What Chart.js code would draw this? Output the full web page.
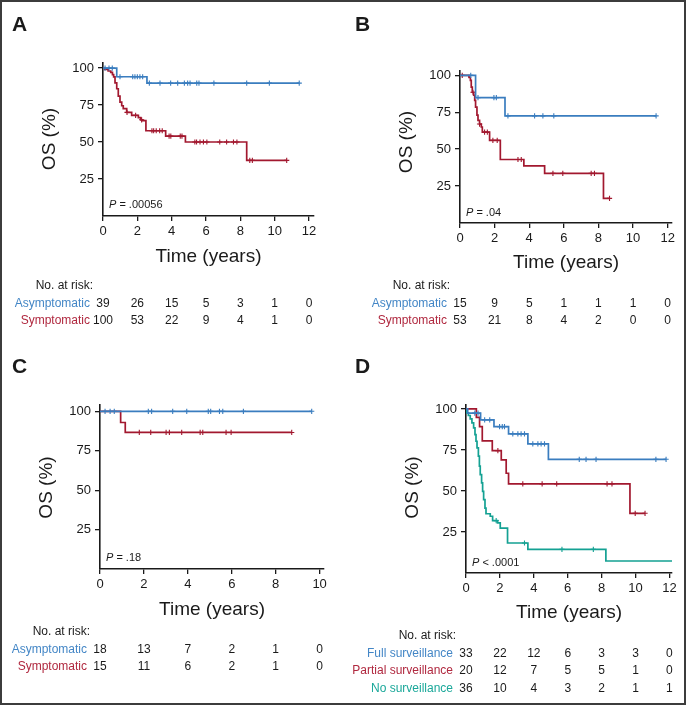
<!DOCTYPE html>
<html lang="en">
<head>
<meta charset="UTF-8">
<title>Overall survival - Kaplan-Meier panels</title>
<script src="https://cdn.jsdelivr.net/npm/chart.js"></script>
<style>
  body { margin: 0; background: #fff; }
  #page { position: relative; width: 686px; height: 706px; overflow: hidden; }
  #frame { position: absolute; left: 0; top: 0; width: 686px; height: 705px; box-sizing: border-box; border: 2px solid #3c3c3c; pointer-events: none; }
  .panel { position: absolute; }
</style>
</head>
<body>
<div id="page">
  <canvas id="panelA" class="panel" width="343" height="353" style="left:0;top:0"></canvas>
  <canvas id="panelB" class="panel" width="343" height="353" style="left:343px;top:0"></canvas>
  <canvas id="panelC" class="panel" width="343" height="353" style="left:0;top:353px"></canvas>
  <canvas id="panelD" class="panel" width="343" height="353" style="left:343px;top:353px"></canvas>
  <div id="frame"></div>
</div>

<script>
// ---- data ----
const yTicks = [25, 50, 75, 100];
const xTicks12 = [0, 2, 4, 6, 8, 10, 12];
const xTicks10 = [0, 2, 4, 6, 8, 10];

// A: all patients
const aAsymTime = [0, 0.8, 2.56, 11.43];
const aAsymSurv = [100, 94.1, 89.8, 89.8];
const aAsymCens = [0.12, 0.35, 0.54, 0.99, 1.73, 1.86, 2.0, 2.15, 2.31, 2.7, 3.32, 3.94, 4.35, 4.74, 4.93, 5.07, 5.46, 5.59, 6.46, 8.37, 9.69, 11.43];
const aSympTime = [0, 0.1, 0.3, 0.45, 0.55, 0.62, 0.7, 0.8, 0.89, 0.99, 1.09, 1.18, 1.38, 1.67, 2.06, 2.2, 2.3, 2.5, 3.65, 4.8, 8.37, 10.7];
const aSympSurv = [100, 99, 98, 97, 95.5, 94, 90, 86, 81, 77, 74.5, 72.5, 70, 68, 66.5, 65, 64.4, 57.6, 54, 50, 37.6, 37.6];
const aSympCens = [1.4, 1.9, 2.25, 2.85, 2.95, 3.1, 3.3, 3.45, 3.85, 3.95, 4.5, 4.6, 5.35, 5.45, 5.65, 5.85, 6.05, 6.8, 7.2, 7.6, 7.8, 8.55, 8.7, 10.7];
const aRiskAsym = [39, 26, 15, 5, 3, 1, 0];
const aRiskSymp = [100, 53, 22, 9, 4, 1, 0];

// B
const bAsymTime = [0, 0.9, 2.6, 11.33];
const bAsymSurv = [100, 84.9, 72.5, 72.5];
const bAsymCens = [0.62, 1.04, 1.96, 2.1, 2.77, 4.31, 4.79, 5.42, 11.33];
const bSympTime = [0, 0.52, 0.6, 0.65, 0.71, 0.79, 0.85, 0.9, 0.98, 1.04, 1.13, 1.23, 1.29, 1.71, 2.33, 3.69, 4.89, 8.29, 8.64];
const bSympSurv = [100, 98.5, 96.5, 92, 88.5, 86.5, 83, 78.5, 73, 69.5, 67, 65, 61.5, 56, 43, 38.7, 33.6, 16.7, 16.7];
const bSympCens = [0.13, 0.75, 1.13, 1.42, 1.58, 1.9, 2.15, 3.35, 3.54, 5.37, 5.94, 7.58, 7.77, 8.64];
const bRiskAsym = [15, 9, 5, 1, 1, 1, 0];
const bRiskSymp = [53, 21, 8, 4, 2, 0, 0];

// C
const cAsymTime = [0, 9.64];
const cAsymSurv = [100, 100];
const cAsymCens = [0.23, 0.46, 0.65, 2.2, 2.35, 3.31, 3.95, 4.93, 5.04, 5.44, 5.59, 6.53, 9.64];
const cSympTime = [0, 0.94, 1.15, 8.73];
const cSympSurv = [100, 92.9, 86.6, 86.6];
const cSympCens = [1.79, 2.31, 3.01, 3.16, 3.72, 4.56, 4.68, 5.74, 5.97, 8.73];
const cRiskAsym = [18, 13, 7, 2, 1, 0];
const cRiskSymp = [15, 11, 6, 2, 1, 0];

// D: surveillance groups
const dFullTime = [0, 0.1, 0.86, 1.65, 2.51, 3.65, 4.86, 11.8];
const dFullSurv = [100, 97.5, 93.3, 89.2, 84.8, 78.7, 69.3, 69.3];
const dFullCens = [0.52, 0.71, 1.1, 1.4, 1.98, 2.14, 2.27, 2.76, 3.06, 3.25, 3.45, 3.94, 4.24, 4.43, 4.63, 6.68, 7.08, 7.67, 11.2, 11.8];
const dPartTime = [0, 0.61, 0.8, 0.96, 1.55, 2.08, 2.37, 2.51, 9.67, 10.56];
const dPartSurv = [100, 94.9, 89.2, 80.5, 74.6, 68.9, 60.8, 54.3, 36.4, 36.4];
const dPartCens = [1.88, 3.35, 4.49, 5.35, 8.32, 8.61, 9.98, 10.56];
const dNoneTime = [0, 0.05, 0.14, 0.25, 0.35, 0.45, 0.53, 0.59, 0.65, 0.73, 0.79, 0.84, 0.92, 0.98, 1.04, 1.12, 1.18, 1.43, 1.57, 1.86, 2.02, 2.45, 3.65, 8.25, 12.15];
const dNoneSurv = [100, 97.6, 96, 94, 91.5, 88.4, 84.4, 80.3, 76.3, 71.2, 65.1, 60, 54.9, 49.8, 44.7, 39.6, 36.1, 34.6, 31.9, 30.5, 27.4, 18.3, 14.4, 7.3, 7.3];
const dNoneCens = [1.78, 3.45, 5.66, 7.51];
const dRiskFull = [33, 22, 12, 6, 3, 3, 0];
const dRiskPart = [20, 12, 7, 5, 5, 1, 0];
const dRiskNone = [36, 10, 4, 3, 2, 1, 1];

// ---- styling ----
const FONT = "'Liberation Sans', Arial, Helvetica, sans-serif";
const BLUE = '#3a7dbf';
const RED = '#a2182f';
const TEAL = '#14a193';
const BLUE_TXT = '#4386c6';
const RED_TXT = '#b0283f';
const TEAL_TXT = '#1ba89a';
const INK = '#1a1a1a';

// survival value of a step curve at time t (for placing censor ticks on the curve)
function survAt(times, surv, t) {
  let s = surv[0];
  for (let i = 0; i < times.length; i++) {
    if (times[i] <= t) s = surv[i];
  }
  return s;
}

// draws panel letter, axis titles, P value and the number-at-risk table
const panelText = {
  id: 'panelText',
  afterDraw(chart, args, o) {
    const { ctx, chartArea } = chart;
    const x = chart.scales.x;
    ctx.save();
    ctx.fillStyle = INK;

    ctx.font = 'bold 21px ' + FONT;
    ctx.textAlign = 'left';
    ctx.textBaseline = 'alphabetic';
    ctx.fillText(o.letter, o.letterX, o.letterY);

    // y title
    ctx.save();
    ctx.translate(chartArea.left - 53, o.yTitleY);
    ctx.rotate(-Math.PI / 2);
    ctx.font = '19px ' + FONT;
    ctx.textAlign = 'center';
    ctx.textBaseline = 'middle';
    ctx.fillText('OS (%)', 0, 0);
    ctx.restore();

    // x title
    ctx.font = '19px ' + FONT;
    ctx.textAlign = 'center';
    ctx.textBaseline = 'middle';
    ctx.fillText('Time (years)', (chartArea.left + chartArea.right) / 2, chartArea.bottom + o.xTitleDy);

    // P value
    ctx.textAlign = 'left';
    ctx.font = 'italic 11px ' + FONT;
    const px = chartArea.left + 6;
    const py = chartArea.bottom - o.pDy;
    ctx.fillText('P', px, py);
    const pw = ctx.measureText('P').width;
    ctx.font = '11px ' + FONT;
    ctx.fillText(o.pText, px + pw, py);

    // risk table
    const labelRight = chartArea.left - 13;
    ctx.font = '12px ' + FONT;
    ctx.textAlign = 'right';
    ctx.fillStyle = INK;
    const headY = chartArea.bottom + o.tableDy;
    ctx.fillText('No. at risk:', labelRight + 3, headY);
    o.rows.forEach((row, r) => {
      const ry = headY + 17.5 * (r + 1);
      ctx.textAlign = 'right';
      ctx.fillStyle = row.color;
      ctx.fillText(row.label, labelRight, ry);
      ctx.textAlign = 'center';
      ctx.fillStyle = INK;
      row.values.forEach((v, i) => {
        ctx.fillText(String(v), x.getPixelForValue(o.xTicks[i]), ry);
      });
    });
    ctx.restore();
  }
};

function makePanel(id, p) {
  const datasets = [];
  p.series.forEach(s => {
    datasets.push({
      data: s.time.map((t, i) => ({ x: t, y: s.surv[i] })),
      showLine: true,
      stepped: 'before',
      borderColor: s.color,
      borderWidth: 1.7,
      pointRadius: 0,
      fill: false
    });
    datasets.push({
      data: s.cens.map(t => ({ x: t, y: survAt(s.time, s.surv, t) })),
      showLine: false,
      pointStyle: 'cross',
      pointRadius: 2.6,
      borderColor: s.color,
      borderWidth: 1.1
    });
  });

  const tickFont = { family: FONT, size: 13 };
  new Chart(document.getElementById(id), {
    type: 'scatter',
    data: { datasets },
    plugins: [panelText],
    options: {
      responsive: false,
      animation: false,
      events: [],
      layout: {
        padding: { left: p.left - 40, top: p.top, right: 343 - p.right, bottom: 353 - p.bottom - 30 }
      },
      scales: {
        x: {
          type: 'linear',
          min: 0,
          max: p.xMax,
          afterBuildTicks: sc => { sc.ticks = p.xTicks.map(v => ({ value: v })); },
          afterFit: sc => { sc.height = 30; },
          grid: { drawOnChartArea: false, drawTicks: true, tickLength: 5, color: INK, lineWidth: 1.3 },
          border: { color: INK, width: 1.6 },
          ticks: { color: INK, font: tickFont, padding: 3, maxRotation: 0 }
        },
        y: {
          type: 'linear',
          min: 0,
          max: p.yMax,
          afterBuildTicks: sc => { sc.ticks = yTicks.map(v => ({ value: v })); },
          afterFit: sc => { sc.width = 40; },
          grid: { drawOnChartArea: false, drawTicks: true, tickLength: 5, color: INK, lineWidth: 1.3 },
          border: { color: INK, width: 1.6 },
          ticks: { color: INK, font: tickFont, padding: 4 }
        }
      },
      plugins: {
        legend: { display: false },
        tooltip: { enabled: false },
        panelText: p.text
      }
    }
  });
}

makePanel('panelA', {
  left: 103, top: 63, right: 314, bottom: 216, xMax: 12.29, yMax: 103.4, xTicks: xTicks12,
  series: [
    { time: aAsymTime, surv: aAsymSurv, cens: aAsymCens, color: BLUE },
    { time: aSympTime, surv: aSympSurv, cens: aSympCens, color: RED }
  ],
  text: {
    letter: 'A', letterX: 12, letterY: 31, yTitleY: 139, xTitleDy: 41, pDy: 11, pText: ' = .00056', tableDy: 70, xTicks: xTicks12,
    rows: [
      { label: 'Asymptomatic', color: BLUE_TXT, values: aRiskAsym },
      { label: 'Symptomatic', color: RED_TXT, values: aRiskSymp }
    ]
  }
});

makePanel('panelB', {
  left: 117, top: 71, right: 329, bottom: 223, xMax: 12.25, yMax: 102.9, xTicks: xTicks12,
  series: [
    { time: bAsymTime, surv: bAsymSurv, cens: bAsymCens, color: BLUE },
    { time: bSympTime, surv: bSympSurv, cens: bSympCens, color: RED }
  ],
  text: {
    letter: 'B', letterX: 12, letterY: 31, yTitleY: 142, xTitleDy: 40, pDy: 10, pText: ' = .04', tableDy: 63, xTicks: xTicks12,
    rows: [
      { label: 'Asymptomatic', color: BLUE_TXT, values: bRiskAsym },
      { label: 'Symptomatic', color: RED_TXT, values: bRiskSymp }
    ]
  }
});

makePanel('panelC', {
  left: 100, top: 52, right: 324, bottom: 216, xMax: 10.2, yMax: 104, xTicks: xTicks10,
  series: [
    { time: cAsymTime, surv: cAsymSurv, cens: cAsymCens, color: BLUE },
    { time: cSympTime, surv: cSympSurv, cens: cSympCens, color: RED }
  ],
  text: {
    letter: 'C', letterX: 12, letterY: 20, yTitleY: 134.5, xTitleDy: 41, pDy: 11, pText: ' = .18', tableDy: 63, xTicks: xTicks10,
    rows: [
      { label: 'Asymptomatic', color: BLUE_TXT, values: cRiskAsym },
      { label: 'Symptomatic', color: RED_TXT, values: cRiskSymp }
    ]
  }
});

makePanel('panelD', {
  left: 123, top: 52, right: 329, bottom: 220, xMax: 12.15, yMax: 102.4, xTicks: xTicks12,
  series: [
    { time: dFullTime, surv: dFullSurv, cens: dFullCens, color: BLUE },
    { time: dPartTime, surv: dPartSurv, cens: dPartCens, color: RED },
    { time: dNoneTime, surv: dNoneSurv, cens: dNoneCens, color: TEAL }
  ],
  text: {
    letter: 'D', letterX: 12, letterY: 20, yTitleY: 134.5, xTitleDy: 40, pDy: 10, pText: ' < .0001', tableDy: 63, xTicks: xTicks12,
    rows: [
      { label: 'Full surveillance', color: BLUE_TXT, values: dRiskFull },
      { label: 'Partial surveillance', color: RED_TXT, values: dRiskPart },
      { label: 'No surveillance', color: TEAL_TXT, values: dRiskNone }
    ]
  }
});
</script>
</body>
</html>
